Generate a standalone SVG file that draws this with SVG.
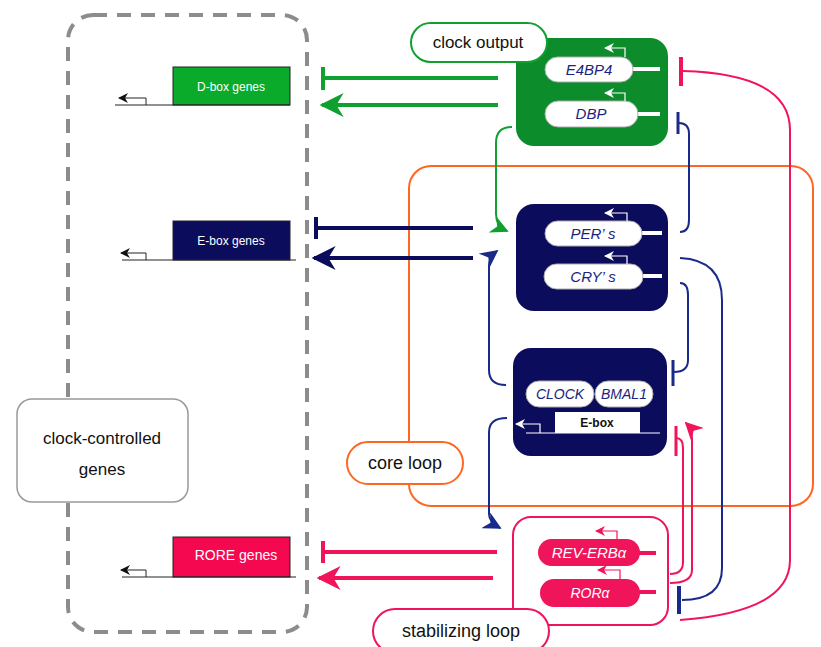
<svg xmlns="http://www.w3.org/2000/svg" width="821" height="647" viewBox="0 0 821 647">
<style>
text{font-family:"Liberation Sans",Arial,sans-serif}
.pilltxt{font-size:15px;font-style:italic;fill:#1a237e;text-anchor:middle}
.lbl{font-size:17px;fill:#111;text-anchor:middle}
.gene{font-size:12px;fill:#fff;text-anchor:middle}
.g{stroke:#10a030;fill:none}
.n{stroke:#0c0c5c;fill:none}
.nb{stroke:#1a2a8a;fill:none}
.r{stroke:#f0145a;fill:none}
</style>
<defs>
<marker id="bigG" viewBox="0 0 10 10" refX="9" refY="5" markerWidth="24" markerHeight="24" markerUnits="userSpaceOnUse" orient="auto"><path d="M0,0 L10,5 L0,10 L3,5 z" fill="#10a030"/></marker>
<marker id="bigN" viewBox="0 0 10 10" refX="9" refY="5" markerWidth="24" markerHeight="24" markerUnits="userSpaceOnUse" orient="auto"><path d="M0,0 L10,5 L0,10 L3,5 z" fill="#0c0c5c"/></marker>
<marker id="bigR" viewBox="0 0 10 10" refX="9" refY="5" markerWidth="24" markerHeight="24" markerUnits="userSpaceOnUse" orient="auto"><path d="M0,0 L10,5 L0,10 L3,5 z" fill="#f0145a"/></marker>
<marker id="smG" viewBox="0 0 10 10" refX="9" refY="5" markerWidth="18" markerHeight="18" markerUnits="userSpaceOnUse" orient="auto"><path d="M0,0 L10,5 L0,10 L3,5 z" fill="#10a030"/></marker>
<marker id="smN" viewBox="0 0 10 10" refX="9" refY="5" markerWidth="18" markerHeight="18" markerUnits="userSpaceOnUse" orient="auto"><path d="M0,0 L10,5 L0,10 L3,5 z" fill="#1a2a8a"/></marker>
<marker id="smR" viewBox="0 0 10 10" refX="9" refY="5" markerWidth="18" markerHeight="18" markerUnits="userSpaceOnUse" orient="auto"><path d="M0,0 L10,5 L0,10 L3,5 z" fill="#f0145a"/></marker>
<marker id="tK" viewBox="0 0 10 10" refX="9" refY="5" markerWidth="10" markerHeight="10" markerUnits="userSpaceOnUse" orient="auto"><path d="M0,0 L10,5 L0,10 L3,5 z" fill="#111"/></marker>
<marker id="tW" viewBox="0 0 10 10" refX="9" refY="5" markerWidth="10" markerHeight="10" markerUnits="userSpaceOnUse" orient="auto"><path d="M0,0 L10,5 L0,10 L3,5 z" fill="#fff"/></marker>
<marker id="tR" viewBox="0 0 10 10" refX="9" refY="5" markerWidth="10" markerHeight="10" markerUnits="userSpaceOnUse" orient="auto"><path d="M0,0 L10,5 L0,10 L3,5 z" fill="#f0145a"/></marker>
</defs>

<g id="clock-controlled-region">
<rect x="68" y="15" width="239" height="617" rx="25" fill="none" stroke="#8c8c8c" stroke-width="4" stroke-dasharray="14 10"/>
</g>
<g id="core-loop-region">
<rect x="409" y="166" width="404" height="340" rx="22" fill="none" stroke="#ff6622" stroke-width="2"/>
</g>

<g id="connectors">
<line class="g" x1="498" y1="78" x2="325" y2="78" stroke-width="4"/>
<line class="g" x1="323" y1="67" x2="323" y2="90" stroke-width="4"/>
<line class="g" x1="498" y1="105" x2="322" y2="105" stroke-width="4" marker-end="url(#bigG)"/>
<line class="n" x1="473" y1="228" x2="318" y2="228" stroke-width="4"/>
<line class="n" x1="316" y1="217" x2="316" y2="239" stroke-width="4"/>
<line class="n" x1="473" y1="258" x2="314" y2="258" stroke-width="4" marker-end="url(#bigN)"/>
<line class="r" x1="497" y1="552" x2="325" y2="552" stroke-width="4"/>
<line class="r" x1="323" y1="541" x2="323" y2="563" stroke-width="4"/>
<line class="r" x1="493" y1="578" x2="319" y2="578" stroke-width="4" marker-end="url(#bigR)"/>
<path class="g" d="M512,127 Q496,127 496,143 L496,214 Q496,226 507,231" stroke-width="2" marker-end="url(#smG)"/>
<path class="nb" d="M680,232 Q689,232 689,220 L689,134 Q689,123 679,123" stroke-width="2"/>
<line class="nb" x1="678" y1="112" x2="678" y2="134" stroke-width="3"/>
<path class="nb" d="M680,283 Q688,283 688,295 L688,360 Q688,372 674,372" stroke-width="2"/>
<line class="nb" x1="673" y1="360" x2="673" y2="386" stroke-width="3"/>
<path class="nb" d="M680,258 Q722,260 722,300 L722,568 Q722,600 682,600" stroke-width="2"/>
<line class="nb" x1="679" y1="586" x2="679" y2="614" stroke-width="4"/>
<path class="nb" d="M506,385 Q489,385 489,370 L489,266 Q489,257 497,251" stroke-width="2" marker-end="url(#smN)"/>
<path class="nb" d="M507,418 Q489,418 489,432 L489,514 Q489,522 500,528" stroke-width="2" marker-end="url(#smN)"/>
<path class="r" d="M680,620 Q790,612 790,560 L790,130 Q790,74 683,71" stroke-width="2"/>
<line class="r" x1="681" y1="57" x2="681" y2="86" stroke-width="4"/>
<path class="r" d="M676,438 Q683,438 683,448 L683,562 Q683,574 670,574" stroke-width="2"/>
<line class="r" x1="676" y1="426" x2="676" y2="456" stroke-width="3"/>
<path class="r" d="M670,583 Q692,583 692,570 L692,438 Q692,429 686,423" stroke-width="2" marker-end="url(#smR)"/>
</g>

<g id="clock-controlled-genes">
<rect x="17" y="399" width="171" height="103" rx="15" fill="#fff" stroke="#999" stroke-width="1.5"/>
<text class="lbl" x="102" y="444">clock-controlled</text>
<text class="lbl" x="102" y="475">genes</text>
</g>

<g id="dbox-genes">
<rect x="173" y="67" width="117" height="38" fill="#0aaa2a" stroke="#222" stroke-width="1"/>
<text class="gene" x="231" y="91">D-box genes</text>
<line x1="115" y1="105" x2="290" y2="105" stroke="#222" stroke-width="1"/>
<path d="M146,105 V98 H119" fill="none" stroke="#222" stroke-width="1" marker-end="url(#tK)"/>
</g>
<g id="ebox-genes">
<rect x="173" y="221" width="117" height="39" fill="#0c0c5c" stroke="#222" stroke-width="1"/>
<text class="gene" x="231" y="245">E-box genes</text>
<line x1="122" y1="260" x2="296" y2="260" stroke="#222" stroke-width="1"/>
<path d="M146,260 V253 H121" fill="none" stroke="#222" stroke-width="1" marker-end="url(#tK)"/>
</g>
<g id="rore-genes">
<rect x="173" y="537" width="117" height="40" fill="#f5084f" stroke="#222" stroke-width="1"/>
<text x="236" y="560" font-size="14" fill="#fff" text-anchor="middle">RORE genes</text>
<line x1="122" y1="577" x2="296" y2="577" stroke="#222" stroke-width="1"/>
<path d="M146,577 V570 H121" fill="none" stroke="#222" stroke-width="1" marker-end="url(#tK)"/>
</g>

<g id="clock-output-node">
<rect x="516" y="38" width="152" height="108" rx="18" fill="#0d8c2c"/>
<line x1="630" y1="69" x2="660" y2="69" stroke="#fff" stroke-width="4"/>
<rect x="545" y="57" width="88" height="25" rx="12.5" fill="#fff" stroke="#aaa"/>
<text class="pilltxt" x="589" y="75">E4BP4</text>
<path d="M625,57 V48 H605" fill="none" stroke="#fff" stroke-width="1.2" marker-end="url(#tW)"/>
<line x1="635" y1="114" x2="660" y2="114" stroke="#fff" stroke-width="4"/>
<rect x="545" y="101" width="93" height="26" rx="13" fill="#fff" stroke="#aaa"/>
<text class="pilltxt" x="591" y="119">DBP</text>
<path d="M625,101 V93 H605" fill="none" stroke="#fff" stroke-width="1.2" marker-end="url(#tW)"/>
</g>
<g id="clock-output-label">
<rect x="411" y="23" width="136" height="39" rx="19.5" fill="#fff" stroke="#10a030" stroke-width="2"/>
<text x="478" y="48" font-size="17" fill="#111" text-anchor="middle">clock output</text>
</g>

<g id="per-cry-node">
<rect x="516" y="204" width="152" height="107" rx="18" fill="#0c0c5c"/>
<line x1="640" y1="233" x2="662" y2="233" stroke="#fff" stroke-width="4"/>
<rect x="545" y="221" width="97" height="25" rx="12.5" fill="#fff" stroke="#aaa"/>
<text class="pilltxt" x="593" y="239">PER’ s</text>
<path d="M627,221 V213 H605" fill="none" stroke="#fff" stroke-width="1.2" marker-end="url(#tW)"/>
<line x1="640" y1="276" x2="662" y2="276" stroke="#fff" stroke-width="4"/>
<rect x="544" y="264" width="99" height="25" rx="12.5" fill="#fff" stroke="#aaa"/>
<text class="pilltxt" x="593" y="282">CRY’ s</text>
<path d="M627,264 V256 H605" fill="none" stroke="#fff" stroke-width="1.2" marker-end="url(#tW)"/>
</g>

<g id="clock-bmal1-node">
<rect x="513" y="348" width="154" height="108" rx="18" fill="#0c0c5c"/>
<rect x="526" y="381" width="68" height="26" rx="13" fill="#fff" stroke="#aaa"/>
<text class="pilltxt" x="560" y="399" style="font-size:14px">CLOCK</text>
<rect x="595" y="381" width="58" height="26" rx="13" fill="#fff" stroke="#aaa"/>
<text class="pilltxt" x="624" y="399" style="font-size:14px">BMAL1</text>
<line x1="526" y1="433" x2="660" y2="433" stroke="#fff" stroke-width="1"/>
<rect x="555" y="412" width="85" height="21" fill="#fff"/>
<text x="597" y="427" font-size="12" font-weight="bold" fill="#111" text-anchor="middle">E-box</text>
<path d="M540,433 V424 H516" fill="none" stroke="#fff" stroke-width="1.2" marker-end="url(#tW)"/>
</g>

<g id="core-loop-label">
<rect x="347" y="442" width="116" height="42" rx="21" fill="#fff" stroke="#ff6622" stroke-width="2"/>
<text x="405" y="469" font-size="18" fill="#111" text-anchor="middle">core loop</text>
</g>

<g id="rev-ror-node">
<rect x="513" y="517" width="155" height="108" rx="18" fill="#fff" stroke="#f0145a" stroke-width="2"/>
<line x1="636" y1="553" x2="656" y2="553" stroke="#f0145a" stroke-width="4"/>
<rect x="538" y="539" width="102" height="27" rx="13.5" fill="#f0145a"/>
<text x="589" y="558" font-size="15" font-style="italic" fill="#fff" text-anchor="middle">REV-ERBα</text>
<path d="M617,539 V531 H596" fill="none" stroke="#f0145a" stroke-width="1.2" marker-end="url(#tR)"/>
<line x1="636" y1="592" x2="656" y2="592" stroke="#f0145a" stroke-width="4"/>
<rect x="540" y="579" width="100" height="28" rx="14" fill="#f0145a"/>
<text x="590" y="598" font-size="14" font-style="italic" fill="#fff" text-anchor="middle">RORα</text>
<path d="M620,579 V570 H598" fill="none" stroke="#f0145a" stroke-width="1.2" marker-end="url(#tR)"/>
</g>

<g id="stabilizing-loop-label">
<rect x="373" y="609" width="176" height="44" rx="22" fill="#fff" stroke="#f0145a" stroke-width="2"/>
<text x="461" y="637" font-size="18" fill="#111" text-anchor="middle">stabilizing loop</text>
</g>
</svg>
